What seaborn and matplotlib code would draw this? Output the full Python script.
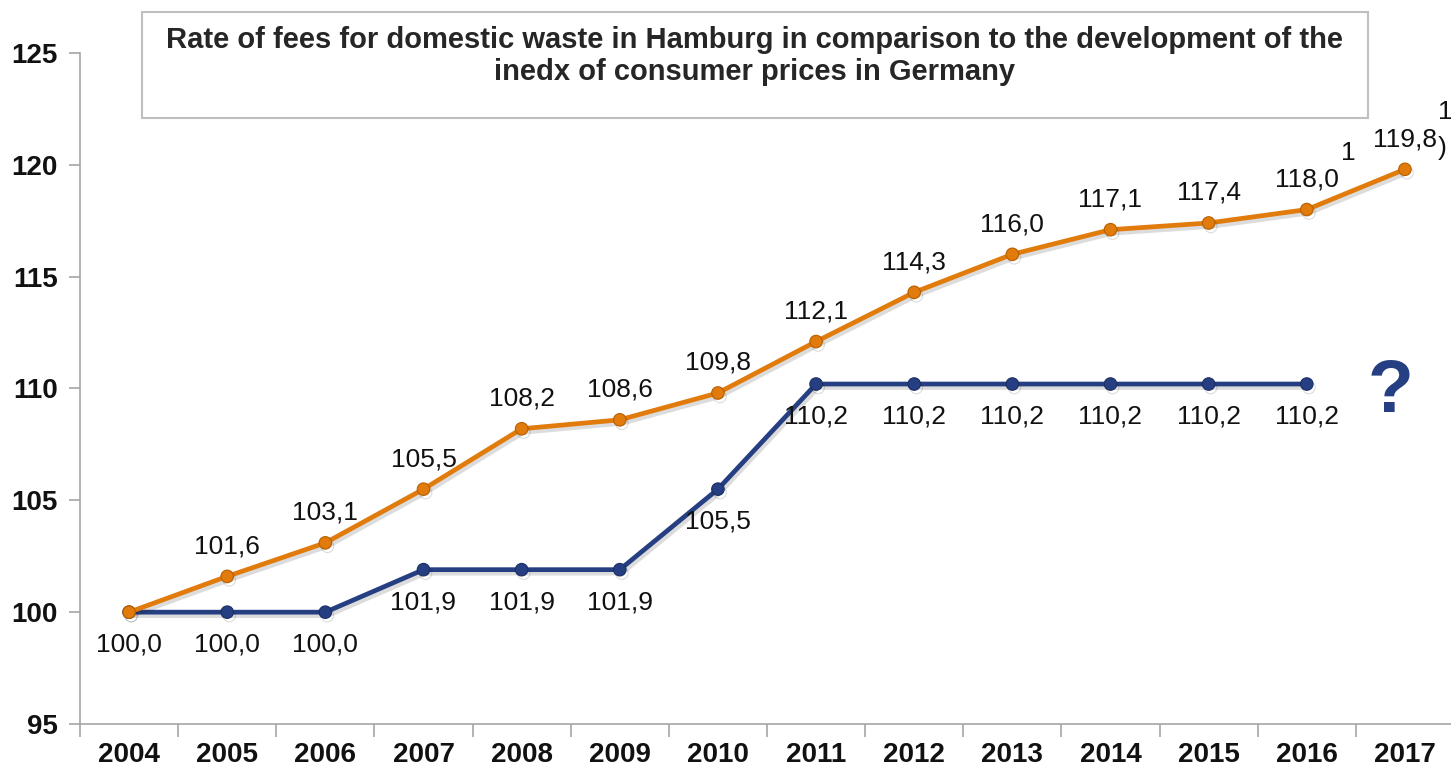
import matplotlib
matplotlib.use("Agg")
import matplotlib.pyplot as plt
import matplotlib.patheffects as pe
import numpy as np
import pandas as pd
import seaborn as sns

years = ['2004', '2005', '2006', '2007', '2008', '2009', '2010',
         '2011', '2012', '2013', '2014', '2015', '2016', '2017']
cpi = [100.0, 101.6, 103.1, 105.5, 108.2, 108.6, 109.8,
       112.1, 114.3, 116.0, 117.1, 117.4, 118.0, 119.8]
fees = [100.0, 100.0, 100.0, 101.9, 101.9, 101.9, 105.5,
        110.2, 110.2, 110.2, 110.2, 110.2, 110.2]
yticks = [95, 100, 105, 110, 115, 120, 125]

orange = '#E07B0C'
navy = '#263F82'

sns.set_theme(style='white')
plt.rcParams['font.family'] = ['Liberation Sans', 'DejaVu Sans']

df_cpi = pd.DataFrame({'pos': np.arange(len(cpi)), 'value': cpi})
df_fees = pd.DataFrame({'pos': np.arange(len(fees)), 'value': fees})

W, H = 1451, 775
fig = plt.figure(figsize=(W / 100, H / 100), dpi=100)
ax = fig.add_axes([80 / W, 51 / H, (1454 - 80) / W, (724 - 53) / H])

shadow = [pe.SimpleLineShadow(offset=(1.5, -2.5), alpha=0.15, shadow_color='k'), pe.Normal()]

sns.lineplot(data=df_fees, x='pos', y='value', ax=ax, color=navy, lw=3.4,
             marker='o', markersize=9, markeredgecolor='#1B2E63', markeredgewidth=0.8,
             path_effects=shadow, zorder=3)
sns.lineplot(data=df_cpi, x='pos', y='value', ax=ax, color=orange, lw=3.4,
             marker='o', markersize=9, markeredgecolor='#B85F00', markeredgewidth=0.8,
             path_effects=shadow, zorder=4)

# labels: orange above, navy below
for i, v in enumerate(cpi):
    if i == 0:
        continue
    ax.annotate(f'{v:.1f}'.replace('.', ','), (i, v), xytext=(0, 13),
                textcoords='offset points', ha='center', va='bottom',
                fontsize=19, color='#111111')
for i, v in enumerate(fees):
    ax.annotate(f'{v:.1f}'.replace('.', ','), (i, v), xytext=(0, -15),
                textcoords='offset points', ha='center', va='top',
                fontsize=19, color='#111111')

# footnote markers
ax.annotate('1', (12, cpi[12]), xytext=(30, 41), textcoords='offset points',
            ha='center', va='center', fontsize=19, color='#111111')
ax.annotate('1', (13, cpi[13]), xytext=(29, 41), textcoords='offset points',
            ha='center', va='center', fontsize=19, color='#111111')
ax.annotate(')', (13, cpi[13]), xytext=(27, 15), textcoords='offset points',
            ha='center', va='center', fontsize=19, color='#111111')

ax.text(12.85, 109.8, '?', ha='center', va='center', fontsize=54,
        fontweight='bold', color=navy)

ax.set_xlim(-0.5, 13.5)
ax.set_ylim(95, 125)
ax.set_yticks(yticks)
ax.set_yticklabels([str(t) for t in yticks], fontweight='bold', fontsize=20)
ax.set_xticks(np.arange(len(years)))
ax.set_xticklabels(years, fontweight='bold', fontsize=20)
ax.set_xticks(np.arange(len(years) + 1) - 0.5, minor=True)
ax.tick_params(axis='x', which='major', length=0, pad=13, colors='#111111')
ax.tick_params(axis='x', which='minor', length=9, width=1.2, color='#A6A6A6', bottom=True)
ax.tick_params(axis='y', length=8, width=1.2, color='#A6A6A6', pad=8, labelcolor='#111111', left=True)
ax.set_xlabel('')
ax.set_ylabel('')
for s in ['top', 'right']:
    ax.spines[s].set_visible(False)
for s in ['left', 'bottom']:
    ax.spines[s].set_color('#A6A6A6')
    ax.spines[s].set_linewidth(1.2)

# title box
box = plt.Rectangle((142 / W, 1 - 118 / H), (1368 - 142) / W, (118 - 12) / H,
                    transform=fig.transFigure, fill=False, edgecolor='#BFBFBF', lw=1.5)
fig.patches.append(box)
fig.text(755 / W, 1 - 56 / H,
         'Rate of fees for domestic waste in Hamburg in comparison to the development of the\n'
         'inedx of consumer prices in Germany',
         ha='center', va='center', fontsize=21, fontweight='bold', linespacing=1.2)

fig.savefig('out.png', dpi=100)
